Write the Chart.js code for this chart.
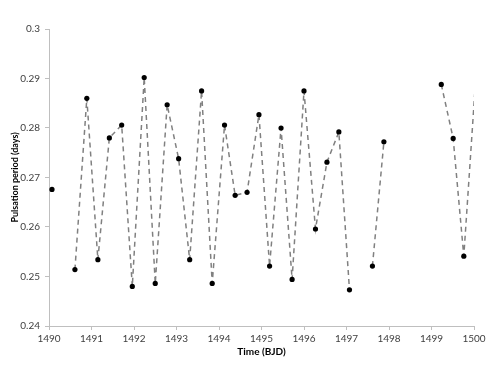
<!DOCTYPE html>
<html>
<head>
<meta charset="utf-8">
<script src="https://cdn.jsdelivr.net/npm/chart.js@4/dist/chart.umd.min.js"></script>
<style>
  html, body { margin: 0; padding: 0; background: #ffffff; }
  #wrap { width: 498px; height: 385px; position: relative; }
</style>
</head>
<body>
<div id="wrap"><canvas id="c" width="498" height="385"></canvas></div>
<script>
// Time (BJD); null entries break the dashed line
const times = [1490.07, null,
  1490.61, 1490.89, 1491.15, 1491.42, 1491.71, 1491.96, 1492.24, 1492.50, 1492.78,
  1493.05, 1493.31, 1493.59, 1493.84, 1494.13, 1494.38, 1494.66, 1494.94, 1495.19,
  1495.46, 1495.72, 1496.00, 1496.27, 1496.54, 1496.82, 1497.07, null,
  1497.61, 1497.88, null,
  1499.23, 1499.51, 1499.76, 1500.05];
// Pulsation period (days)
const periods = [0.2676, null,
  0.2514, 0.2860, 0.2534, 0.2780, 0.2806, 0.2480, 0.2902, 0.2486, 0.2847,
  0.2738, 0.2534, 0.2875, 0.2486, 0.2806, 0.2664, 0.2670, 0.2827, 0.2521,
  0.2800, 0.2494, 0.2875, 0.2596, 0.2731, 0.2792, 0.2473, null,
  0.2521, 0.2772, null,
  0.2888, 0.2779, 0.2541, 0.2912];
const xTicks = [1490, 1491, 1492, 1493, 1494, 1495, 1496, 1497, 1498, 1499, 1500];
const yTicks = [0.24, 0.25, 0.26, 0.27, 0.28, 0.29, 0.3];

const points = times.map((t, i) => (t === null ? { x: null, y: null } : { x: t, y: periods[i] }));
const xMin = xTicks[0], xMax = xTicks[xTicks.length - 1];

const axisColor = '#bfbfbf';
const labelColor = '#404040';
const fontFamily = 'Lato, "Open Sans", "Liberation Sans", sans-serif';

new Chart(document.getElementById('c'), {
  type: 'line',
  data: {
    datasets: [{
      data: points,
      borderColor: '#808080',
      borderWidth: 1.5,
      borderDash: [5, 4],
      spanGaps: false,
      tension: 0,
      clip: 0,
      pointBackgroundColor: '#000000',
      pointBorderColor: '#000000',
      pointRadius: (ctx) => {
        const p = ctx.raw;
        return (p && p.x !== null && p.x > xMax) ? 0 : 2.6;
      },
      pointBorderWidth: 0,
      pointHoverRadius: 2.6
    }]
  },
  options: {
    responsive: false,
    animation: false,
    devicePixelRatio: 1,
    layout: { padding: { left: 10, top: 29, right: 24, bottom: 27 } },
    plugins: { legend: { display: false }, tooltip: { enabled: false } },
    scales: {
      x: {
        type: 'linear',
        min: xMin,
        max: xMax,
        afterBuildTicks: (s) => { s.ticks = xTicks.map(v => ({ value: v })); },
        afterFit: (s) => { s.height = 32; },
        border: { display: true, color: axisColor, width: 1 },
        grid: { drawOnChartArea: false, drawTicks: true, tickLength: 4, color: axisColor },
        ticks: {
          color: labelColor,
          font: { family: fontFamily, size: 10 },
          padding: 3,
          maxRotation: 0,
          callback: (v) => String(v)
        },
        title: {
          display: true,
          text: 'Time (BJD)',
          color: '#000000',
          font: { family: fontFamily, size: 10, weight: 'bold' },
          padding: { top: 2, bottom: 0 }
        }
      },
      y: {
        type: 'linear',
        min: yTicks[0],
        max: yTicks[yTicks.length - 1],
        afterBuildTicks: (s) => { s.ticks = yTicks.map(v => ({ value: v })); },
        afterFit: (s) => { s.width = 39; },
        border: { display: true, color: axisColor, width: 1 },
        grid: { drawOnChartArea: false, drawTicks: true, tickLength: 4, color: axisColor },
        ticks: {
          color: labelColor,
          font: { family: fontFamily, size: 10 },
          padding: 5,
          callback: (v) => String(Number(v.toFixed(2)))
        },
        title: {
          display: true,
          text: 'Pulsation period (days)',
          color: '#000000',
          font: { family: fontFamily, size: 9, weight: 'bold' },
          padding: { top: 0, bottom: 2 }
        }
      }
    }
  }
});
</script>
</body>
</html>
